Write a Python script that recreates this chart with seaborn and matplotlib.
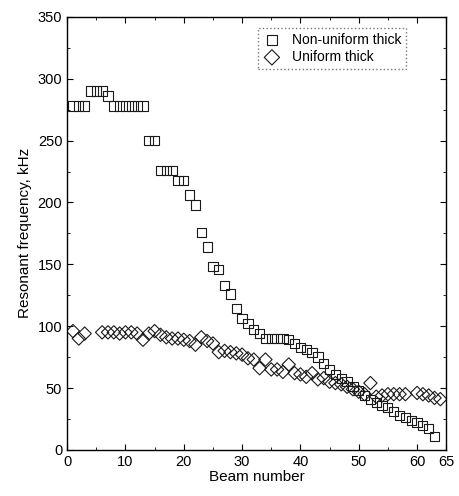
import numpy as np
import pandas as pd
import seaborn as sns
from matplotlib import pyplot as plt
from matplotlib.ticker import MultipleLocator

# Non-uniform thick beams (squares)
beam_nonuniform = list(range(1, 64))
freq_nonuniform = [278, 278, 278, 290, 290, 290, 286, 278, 278, 278,
                   278, 278, 278, 250, 250, 226, 226, 226, 218, 218,
                   206, 198, 176, 164, 148, 146, 133, 126, 114, 106,
                   102, 97, 94, 90, 90, 90, 90, 89, 86, 83,
                   81, 79, 75, 70, 65, 61, 58, 55, 51, 48,
                   44, 41, 38, 36, 34, 31, 28, 26, 24, 22,
                   20, 17, 11]

# Uniform thick beams (diamonds)
beam_uniform = [1, 2, 3, 6, 7, 8, 9, 10, 11, 12, 13, 14, 15, 16, 17, 18, 19, 20,
                21, 22, 23, 24, 25, 26, 27, 28, 29, 30, 31, 32, 33, 34, 35, 36,
                37, 38, 39, 40, 41, 42, 43, 44, 45, 46, 47, 48, 49, 50, 51, 52,
                53, 54, 55, 56, 57, 58, 60, 61, 62, 63, 64]
freq_uniform = [96, 90, 94, 95, 95, 95, 94, 95, 95, 94, 89, 94, 96, 93, 91, 90, 90, 89,
                88, 85, 91, 88, 86, 79, 80, 79, 78, 77, 74, 73, 66, 73, 65, 65,
                63, 69, 62, 61, 59, 62, 57, 58, 55, 54, 53, 51, 49, 47, 45, 54,
                43, 44, 45, 45, 45, 45, 46, 45, 44, 42, 41]

df_nu = pd.DataFrame({"beam": beam_nonuniform, "freq": freq_nonuniform})
df_u = pd.DataFrame({"beam": beam_uniform, "freq": freq_uniform})

sns.set_style("ticks")
plt.rcParams["font.family"] = ["Liberation Sans", "DejaVu Sans"]
plt.rcParams["text.color"] = "black"
plt.rcParams["axes.labelcolor"] = "black"
plt.rcParams["xtick.color"] = "black"
plt.rcParams["ytick.color"] = "black"
plt.rcParams["axes.edgecolor"] = "black"

fig, ax = plt.subplots(figsize=(4.6, 4.96), dpi=100)
fig.subplots_adjust(left=0.146, right=0.970, top=0.966, bottom=0.093)

sns.scatterplot(data=df_nu, x="beam", y="freq", marker="s", s=44,
                facecolor="none", edgecolor="#1a1a1a", linewidth=0.8,
                label="Non-uniform thick", ax=ax)
sns.scatterplot(data=df_u, x="beam", y="freq", marker="D", s=46,
                facecolor="none", edgecolor="#1a1a1a", linewidth=0.8,
                label="Uniform thick", ax=ax)

ax.set_xlim(0, 65)
ax.set_ylim(0, 350)
ax.set_xticks([0, 10, 20, 30, 40, 50, 60, 65])
ax.xaxis.set_minor_locator(MultipleLocator(5))
ax.yaxis.set_major_locator(MultipleLocator(50))
ax.yaxis.set_minor_locator(MultipleLocator(25))
ax.tick_params(which="both", direction="in", top=True, right=True, labelsize=10.5)
ax.tick_params(which="major", length=4)
ax.tick_params(which="minor", length=2.5)
for sp in ax.spines.values():
    sp.set_linewidth(1.0)

ax.set_xlabel("Beam number", fontsize=11, labelpad=1)
ax.set_ylabel("Resonant frequency, kHz", fontsize=11, labelpad=4)

leg = ax.legend(loc="upper right", bbox_to_anchor=(0.895, 0.975), fontsize=10,
                frameon=True, fancybox=False, handletextpad=0.8,
                borderpad=0.35, labelspacing=0.25, handlelength=1.3,
                markerscale=1.15, borderaxespad=0)
leg.get_frame().set_edgecolor("#555555")
leg.get_frame().set_linestyle(":")
leg.get_frame().set_linewidth(1.0)

plt.savefig("out.png", dpi=100)
